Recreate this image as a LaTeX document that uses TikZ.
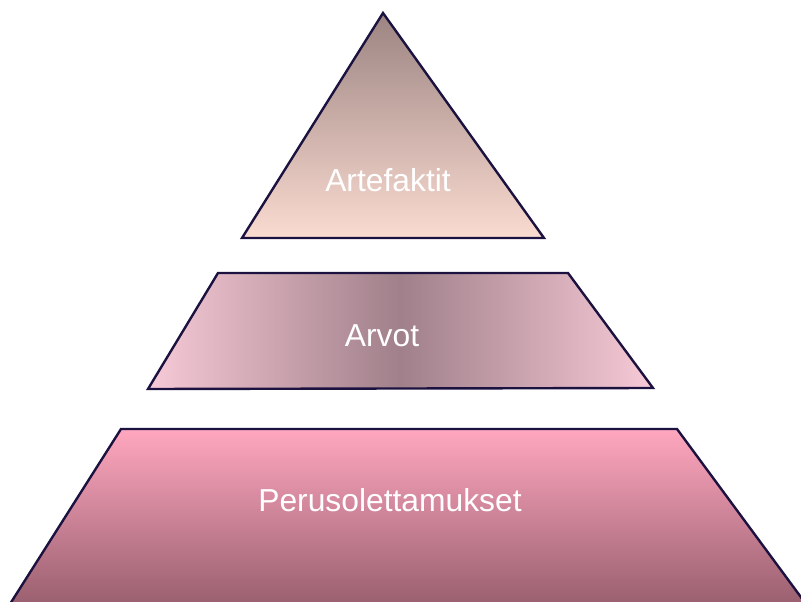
\documentclass[tikz,border=0pt]{standalone}
\usepackage{fontspec}
\setmainfont{Liberation Sans}
\begin{document}
\begin{tikzpicture}[x=1bp,y=-1bp,
  layer/.style={draw=edgecol,line width=2.4bp,line join=miter},
  caption/.style={text=white,font=\fontsize{31.8bp}{36bp}\selectfont,inner sep=0pt}]
\definecolor{edgecol}{HTML}{1B1240}
\definecolor{triTop}{HTML}{9C8482}
\definecolor{triBot}{HTML}{FADBD0}
\definecolor{midEdge}{HTML}{F7CAD7}
\definecolor{midCore}{HTML}{A0808A}
\definecolor{baseTop}{HTML}{FFA7BF}
\definecolor{baseBot}{HTML}{9A6070}
\useasboundingbox (0,0) rectangle (801,602);
% top layer: triangle
\filldraw[layer,top color=triTop,bottom color=triBot]
  (383,13) -- (544,238) -- (242,238) -- cycle;
% middle layer: trapezoid with a dark core
\filldraw[layer,left color=midEdge,right color=midEdge,middle color=midCore]
  (218,273) -- (568,273) -- (653,388) -- (148,389) -- cycle;
% bottom layer: wide trapezoid
\filldraw[layer,top color=baseTop,bottom color=baseBot]
  (121,429) -- (677,429) -- (806,604) -- (10,604) -- cycle;
\node[caption] (art) at (388,180) {Artefaktit};
\node[caption] (arv) at (382,336) {Arvot};
\node[caption] (per) at (390,500) {Perusolettamukset};
\end{tikzpicture}
\end{document}
